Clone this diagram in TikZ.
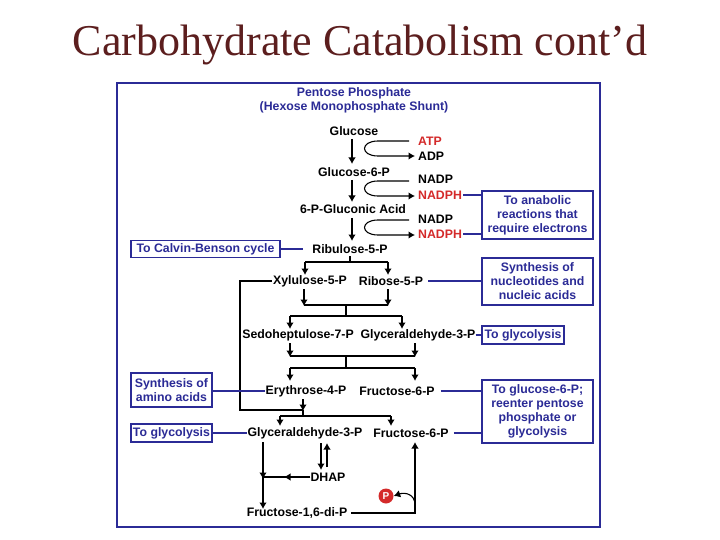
\documentclass[tikz,border=0pt]{standalone}
\usepackage{fontspec}
\setmainfont{Liberation Serif}
\newfontfamily\arialb{Liberation Sans}
\usetikzlibrary{arrows.meta}
\definecolor{tblue}{HTML}{2B2B96}
\definecolor{tred}{HTML}{D42A2A}
\definecolor{ttitle}{HTML}{5C1E1E}
\begin{document}
\begin{tikzpicture}[x=1pt,y=-1pt,
  lbl/.style={font=\arialb\bfseries\fontsize{12.3}{13}\selectfont, inner sep=0pt, text=black},
  blbl/.style={lbl, text=tblue},
  rlbl/.style={lbl, text=tred, anchor=west},
  klbl/.style={lbl, anchor=west},
  bbox/.style={draw=tblue, line width=1.2pt, fill=white, align=center, font=\arialb\bfseries\fontsize{12.3}{14}\selectfont, text=tblue, inner sep=0pt},
  ln/.style={line width=1.1pt},
  bl/.style={line width=1.1pt, draw=tblue},
  ar/.style={ln, -{Latex[length=6.5pt,width=7.5pt]}}]
\useasboundingbox (0,0) rectangle (720,540);
\fill[white] (0,0) rectangle (720,540);
\node[font=\fontsize{44}{48}\selectfont, text=ttitle] (title) at (360,45) {Carbohydrate Catabolism cont’d};
\node[draw=tblue, line width=1.5pt, minimum width=483pt, minimum height=444pt, inner sep=0pt] (frame) at (358.5,305) {};
\node[blbl] (t1) at (354,93) {Pentose Phosphate};
\node[blbl] (t2) at (354,107) {(Hexose Monophosphate Shunt)};
% main chain
\node[lbl] (glc) at (354,131) {Glucose};
\node[lbl] (g6p) at (354,172) {Glucose-6-P};
\node[lbl] (pga) at (353,209) {6-P-Gluconic Acid};
\node[lbl] (ru5p) at (350,249) {Ribulose-5-P};
\draw[ar] (352,139) -- (352,164);
\draw[ar] (352,180) -- (352,202);
\draw[ar] (352,218) -- (352,241);
\node[rlbl] (atp) at (418,141) {ATP};
\node[klbl] (adp) at (418,156) {ADP};
\node[klbl] (nadp1) at (418,179) {NADP};
\node[rlbl] (nadph1) at (418,195) {NADPH};
\node[klbl] (nadp2) at (418,219) {NADP};
\node[rlbl] (nadph2) at (418,234) {NADPH};
\draw[ar] (409,141) -- (378,141) .. controls (360,141) and (360,156) .. (378,156) -- (415,156);
\draw[ar] (409,181) -- (378,181) .. controls (360,181) and (360,196) .. (378,196) -- (415,196);
\draw[ar] (409,220) -- (378,220) .. controls (360,220) and (360,235) .. (378,235) -- (415,235);
% boxes
\node[bbox, minimum width=111pt, minimum height=48pt] (anab) at (537.5,215) {To anabolic\\reactions that\\require electrons};
\draw[bl] (463,195) -- (anab.west |- 0,195);
\draw[bl] (463,234) -- (anab.west |- 0,234);
\node[bbox, minimum width=149pt, minimum height=17pt] (calvin) at (205.5,249) {To Calvin-Benson cycle};
\draw[bl] (calvin.east) -- (303,249);
% split
\node[lbl] (xyl) at (310,281) {Xylulose-5-P};
\node[lbl] (rib) at (391,281) {Ribose-5-P};
\draw[ln] (350,256) -- (350,262);
\draw[ln] (305,262) -- (388,262);
\draw[ar] (305,262) -- (305,275);
\draw[ar] (388,262) -- (388,275);
\node[bbox, minimum width=111pt, minimum height=47pt] (nucl) at (537.5,281.5) {Synthesis of\\nucleotides and\\nucleic acids};
\draw[bl] (rib.east |- 0,281) ++(5,0) -- (nucl.west |- 0,281);
% xylulose left loop
\draw[ln] (xyl.west) ++(-1,0) -- (240,281) -- (240,410) -- (303,410);
% to sedo
\draw[ar] (304,289) -- (304,306);
\draw[ar] (388,289) -- (388,306);
\draw[ln] (304,305) -- (388,305) (346,305) -- (346,316);
\draw[ln] (290,316) -- (402,316);
\draw[ar] (290,316) -- (290,329);
\draw[ar] (402,316) -- (402,329);
\node[lbl] (sedo) at (298,335) {Sedoheptulose-7-P};
\node[lbl] (gap1) at (418,335) {Glyceraldehyde-3-P};
\node[bbox, minimum width=82pt, minimum height=18pt] (gly1) at (523,335) {To glycolysis};
\draw[bl] (gap1.east |- 0,335) -- (gly1.west);
\draw[ar] (290,343) -- (290,357);
\draw[ar] (415,343) -- (415,357);
\draw[ln] (290,356) -- (415,356) (346,356) -- (346,368);
\draw[ln] (290,368) -- (415,368);
\draw[ar] (290,368) -- (290,381);
\draw[ar] (415,368) -- (415,381);
\node[lbl] (e4p) at (306,391) {Erythrose-4-P};
\node[lbl] (f6p1) at (397,391) {Fructose-6-P};
\node[bbox, minimum width=81pt, minimum height=34pt] (amino) at (171.5,390) {Synthesis of\\amino acids};
\draw[bl] (amino.east |- 0,391) -- (e4p.west |- 0,391);
\node[bbox, minimum width=111pt, minimum height=63pt] (reent) at (537.5,411.5) {To glucose-6-P;\\reenter pentose\\phosphate or\\glycolysis};
\draw[bl] (f6p1.east |- 0,391) ++(6,0) -- (reent.west |- 0,391);
\draw[ar] (303,399) -- (303,411);
\draw[ln] (303,410) -- (303,416) (280,416) -- (391,416);
\draw[ar] (280,416) -- (280,426);
\draw[ar] (391,416) -- (391,426);
\node[lbl] (gap2) at (305,433) {Glyceraldehyde-3-P};
\node[lbl] (f6p2) at (411,433) {Fructose-6-P};
\node[bbox, minimum width=81pt, minimum height=18pt] (gly2) at (171.5,433) {To glycolysis};
\draw[bl] (gly2.east) -- (gap2.west |- 0,433);
\draw[bl] (f6p2.east |- 0,433) ++(5,0) -- (reent.west |- 0,433);
% DHAP
\node[lbl] (dhap) at (328,477) {DHAP};
\draw[ar] (321,443) -- (321,470);
\draw[ar] (327,467) -- (327,443);
\draw[ar] (dhap.west) -- (284,477);
\draw[ln] (286,477) -- (263,477);
\draw[ar] (263,442) -- (263,479);
\draw[ar] (263,476) -- (263,509);
\node[lbl] (fbp) at (297,513) {Fructose-1,6-di-P};
\draw[ar] (fbp.east |- 0,513) ++(4,0) -- (415,513) -- (415,442);
\node[circle, fill=tred, inner sep=0pt, minimum size=15pt, text=white, font=\arialb\bfseries\fontsize{10}{10}\selectfont] (pc) at (386,496) {P};
\draw[ar] (415,505) .. controls (415,494) and (405,492) .. (pc.east);
\end{tikzpicture}
\end{document}
